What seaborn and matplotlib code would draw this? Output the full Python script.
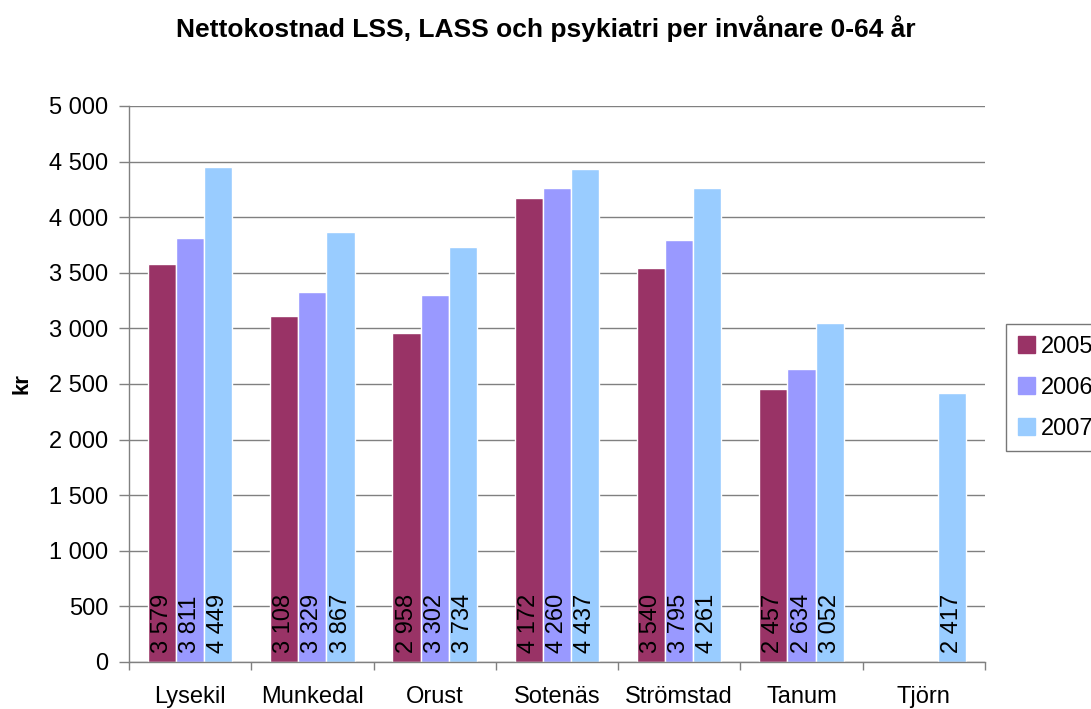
import pandas as pd
import numpy as np
import matplotlib
matplotlib.use("Agg")
from matplotlib import pyplot as plt
from matplotlib.ticker import FuncFormatter, FixedLocator
import seaborn as sns

# data
kommuner = ['Lysekil', 'Munkedal', 'Orust', 'Sotenäs', 'Strömstad', 'Tanum', 'Tjörn']
years = ['2005', '2006', '2007']
v2005 = [3579, 3108, 2958, 4172, 3540, 2457, np.nan]
v2006 = [3811, 3329, 3302, 4260, 3795, 2634, np.nan]
v2007 = [4449, 3867, 3734, 4437, 4261, 3052, 2417]
colors = ['#993366', '#9999FF', '#99CCFF']

df = pd.DataFrame({'kommun': kommuner * 3,
                   'year': ['2005'] * 7 + ['2006'] * 7 + ['2007'] * 7,
                   'kr': v2005 + v2006 + v2007})

sns.set_theme(style='white')
plt.rcParams['font.family'] = ['Liberation Sans', 'DejaVu Sans']
plt.rcParams['text.color'] = 'black'

def fmt(v, pos=None):
    return f"{v:,.0f}".replace(',', ' ')

fig = plt.figure(figsize=(10.91, 7.09), dpi=100)
ax = fig.add_axes([0.1182, 0.0663, 0.7846, 0.7842])

sns.barplot(data=df, x='kommun', y='kr', hue='year', order=kommuner, hue_order=years,
            palette=colors, width=0.69, gap=0, saturation=1, errorbar=None, ax=ax, zorder=2)

ax.set_ylim(0, 5000)
ax.set_xlim(-0.5, 6.5)
ax.set_yticks(np.arange(0, 5001, 500))
ax.yaxis.set_major_formatter(FuncFormatter(fmt))
ax.grid(axis='y', color='#808080', linewidth=1, zorder=0)
ax.set_axisbelow(True)

for s in ['top', 'right']:
    ax.spines[s].set_visible(False)
for s in ['left', 'bottom']:
    ax.spines[s].set_color('#808080')
    ax.spines[s].set_linewidth(1)

ax.tick_params(axis='y', which='major', left=True, length=7, width=1, color='#808080',
               labelsize=17, pad=8, labelcolor='black')
ax.tick_params(axis='x', which='major', length=0, labelsize=17, pad=17, labelcolor='black')
ax.xaxis.set_minor_locator(FixedLocator(np.arange(-0.5, 7, 1)))
ax.tick_params(axis='x', which='minor', bottom=True, length=6, width=1, color='#808080')

ax.set_xlabel('')
ax.set_ylabel('kr', fontsize=16, fontweight='bold', labelpad=12, color='black')

# rotated value labels at the bottom of each bar
for cont in ax.containers:
    for bar, v in zip(cont.patches, cont.datavalues):
        if np.isnan(v) or bar.get_height() == 0:
            continue
        ax.text(bar.get_x() + bar.get_width() / 2, 80, fmt(v), rotation=90,
                ha='center', va='bottom', fontsize=17, color='black', zorder=3)

ax.get_legend().remove()
handles = [plt.Rectangle((0, 0), 1, 1, color=c) for c in colors]
leg = fig.legend(handles, years, loc='upper left', bbox_to_anchor=(1006 / 1091, 1 - 324 / 709),
                 fontsize=17, frameon=True, fancybox=False, edgecolor='#555555',
                 handlelength=0.72, handleheight=0.72, handletextpad=0.25, labelspacing=0.8,
                 borderpad=0.5, borderaxespad=0)
leg.get_frame().set_linewidth(1)

fig.suptitle('Nettokostnad LSS, LASS och psykiatri per invånare 0-64 år',
             x=0.5, y=0.978, fontsize=19, fontweight='bold', va='top', color='black')

fig.savefig('out.png', dpi=100)
